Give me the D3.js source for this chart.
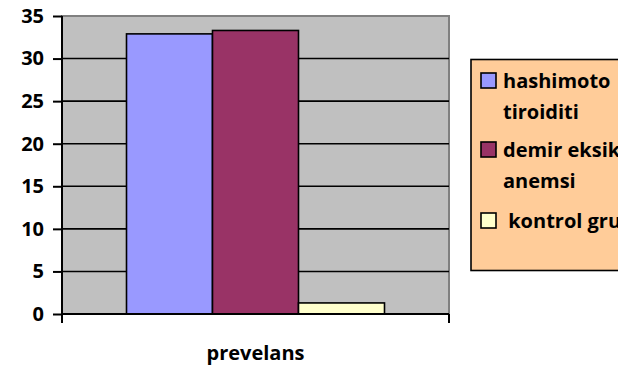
<!DOCTYPE html>
<html>
<head>
<meta charset="utf-8">
<script src="https://cdn.jsdelivr.net/npm/d3@7/dist/d3.min.js"></script>
<style>
  html, body { margin: 0; padding: 0; background: #fff; }
  svg { display: block; }
  text { font-family: "Open Sans", Lato, sans-serif; font-weight: 700; fill: #000; }
</style>
</head>
<body>
<svg id="chart" width="618" height="369"></svg>
<script>
// Prevalence by group
const categories = ["prevelans"];
const seriesNames = ["hashimoto tiroiditi", "demir eksikliği anemsi", "kontrol grubu"];
const legendLines = [["hashimoto", "tiroiditi"], ["demir eksikliği", "anemsi"], [" kontrol grubu"]];
const seriesValues = [32.9, 33.3, 1.3];
const seriesColors = ["#9999FF", "#993366", "#FFFFCC"];
const yTicks = [0, 5, 10, 15, 20, 25, 30, 35];

const svg = d3.select("#chart");
const plot = { left: 62, top: 16, right: 449, bottom: 314 };
const fontSize = 20;

const y = d3.scaleLinear().domain([0, 35]).range([plot.bottom, plot.top]);
const x0 = d3.scaleBand().domain(categories).range([plot.left, plot.right]);
// gap of 150% of a bar width, split on both sides
const barW = x0.bandwidth() / (seriesValues.length + 1.5);
const x1 = d3.scaleBand().domain(seriesNames)
  .range([x0(categories[0]) + 0.75 * barW, x0(categories[0]) + x0.bandwidth() - 0.75 * barW]);

// plot area background
svg.append("rect")
  .attr("x", plot.left).attr("y", plot.top)
  .attr("width", plot.right - plot.left).attr("height", plot.bottom - plot.top)
  .attr("fill", "#C0C0C0").attr("stroke", "#808080").attr("stroke-width", 2);

// gridlines
svg.append("g").selectAll("line")
  .data(yTicks.filter(d => d > 0 && d < 35))
  .join("line")
  .attr("x1", plot.left).attr("x2", plot.right)
  .attr("y1", d => y(d)).attr("y2", d => y(d))
  .attr("stroke", "#000").attr("stroke-width", 1.6);

// bars
svg.append("g").selectAll("rect")
  .data(seriesValues)
  .join("rect")
  .attr("x", (d, i) => x1(seriesNames[i]))
  .attr("width", x1.bandwidth())
  .attr("y", d => y(d))
  .attr("height", d => y(0) - y(d))
  .attr("fill", (d, i) => seriesColors[i])
  .attr("stroke", "#000").attr("stroke-width", 1.6);

// y axis
const yAxis = svg.append("g")
  .attr("transform", `translate(${plot.left},0)`)
  .call(d3.axisLeft(y).tickValues(yTicks).tickSize(9).tickPadding(9));
yAxis.select(".domain").attr("stroke", "#000").attr("stroke-width", 2)
  .attr("d", `M0,${plot.top}V${plot.bottom + 9}`);
yAxis.selectAll(".tick line").attr("stroke", "#000").attr("stroke-width", 2);
yAxis.selectAll(".tick text").attr("font-size", fontSize).attr("font-family", "'Open Sans', sans-serif")
  .attr("font-weight", 700).attr("fill", "#000");

// x axis
const xAxis = svg.append("g")
  .attr("transform", `translate(0,${plot.bottom})`);
xAxis.append("line")
  .attr("x1", plot.left).attr("x2", plot.right)
  .attr("stroke", "#000").attr("stroke-width", 2);
xAxis.selectAll(".edge")
  .data([plot.left, plot.right])
  .join("line").attr("class", "edge")
  .attr("x1", d => d).attr("x2", d => d).attr("y1", 0).attr("y2", 9)
  .attr("stroke", "#000").attr("stroke-width", 2);
xAxis.selectAll(".cat")
  .data(categories)
  .join("text").attr("class", "cat")
  .attr("x", d => x0(d) + x0.bandwidth() / 2)
  .attr("y", 46)
  .attr("text-anchor", "middle")
  .attr("font-size", fontSize)
  .text(d => d);

// legend (runs past the right edge of the page)
const legend = svg.append("g");
legend.append("rect")
  .attr("x", 471).attr("y", 59.5).attr("width", 160).attr("height", 211)
  .attr("fill", "#FFCC99").attr("stroke", "#000").attr("stroke-width", 1.6);
const itemY = [73, 142, 213];
const item = legend.selectAll(".item")
  .data(seriesNames)
  .join("g").attr("class", "item")
  .attr("transform", (d, i) => `translate(481,${itemY[i]})`);
item.append("rect")
  .attr("width", 15).attr("height", 15)
  .attr("fill", (d, i) => seriesColors[i])
  .attr("stroke", "#000").attr("stroke-width", 1.6);
item.append("text")
  .attr("font-size", fontSize)
  .selectAll("tspan")
  .data((d, i) => legendLines[i])
  .join("tspan")
  .attr("x", 22)
  .attr("y", (d, j) => 15 + j * 31)
  .attr("xml:space", "preserve")
  .text(d => d);
</script>
</body>
</html>
